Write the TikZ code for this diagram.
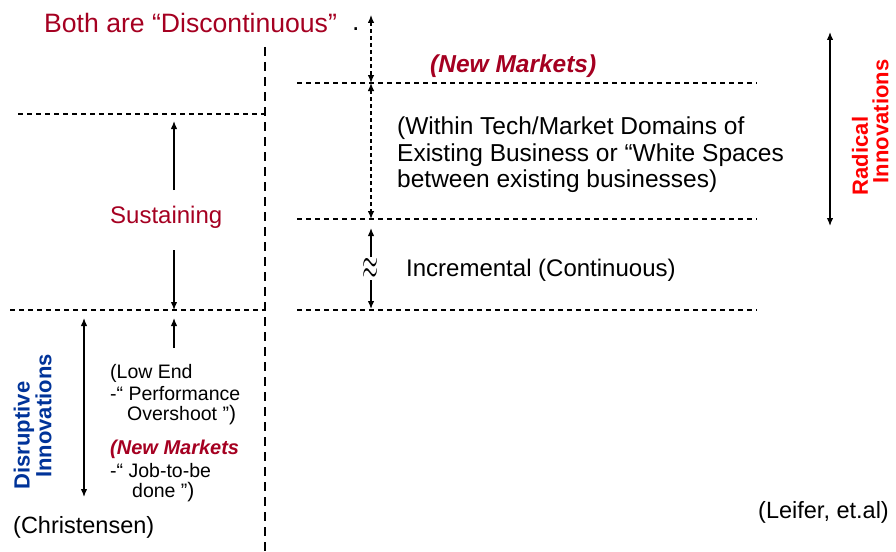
\documentclass[tikz,border=0pt]{standalone}
\usepackage{fontspec}
\setmainfont{Liberation Sans}
\usetikzlibrary{arrows.meta}
\definecolor{titlered}{RGB}{165,0,33}
\definecolor{radred}{RGB}{255,0,0}
\definecolor{disblue}{RGB}{0,51,153}
\newcommand{\fs}[1]{\fontsize{#1}{#1}\selectfont}
\tikzset{
  tip/.tip={Latex[length=8pt,width=6.5pt]},
  guide/.style={line width=1.1pt, dash pattern=on 5pt off 4pt},
  divider/.style={line width=2.8pt, dash pattern=on 9pt off 6pt},
  span/.style={line width=1.3pt, tip-tip},
  oneway/.style={line width=1.3pt, -tip},
  dspan/.style={line width=1.1pt, dash pattern=on 4pt off 3pt, tip-tip},
  txt/.style={inner sep=0pt, anchor=west},
  notes/.style={inner sep=0pt, anchor=north west, align=left, font=\fontsize{19.5}{22}\selectfont},
  vlabel/.style={inner sep=0pt, rotate=90, font=\fs{22}\bfseries},
}
\begin{document}
\begin{tikzpicture}[x=1pt,y=-1pt]
\useasboundingbox (0,0) rectangle (896,551);

% level guides
\coordinate (h1a) at (18,114);  \coordinate (h1b) at (265,114);
\coordinate (h2a) at (10,310);  \coordinate (h2b) at (265,310);
\coordinate (r1a) at (297,83);  \coordinate (r1b) at (757,83);
\coordinate (r2a) at (297,219); \coordinate (r2b) at (757,219);
\coordinate (r3a) at (297,310); \coordinate (r3b) at (757,310);
\draw[guide] (h1a) -- (h1b);
\draw[guide] (h2a) -- (h2b);
\draw[guide] (r1a) -- (r1b);
\draw[guide] (r2a) -- (r2b);
\draw[guide] (r3a) -- (r3b);

% central divider
\coordinate (dtop) at (265,47);
\coordinate (dbot) at (265,551);
\draw[divider] (dtop) -- (dbot);

% title
\node[txt, font=\fs{26.6}, text=titlered] (title) at (44,23) {Both are “Discontinuous”};
\node[inner sep=0pt, anchor=base west, font=\fs{26.6}] (dot) at (352,31) {.};

% right-hand scale
\coordinate (a0) at (371,15);
\coordinate (a1) at (371,83);
\coordinate (a2) at (371,219);
\coordinate (a3) at (371,228);
\coordinate (a3b) at (371,257);
\coordinate (a4b) at (371,280);
\coordinate (a4) at (371,309);
\draw[dspan] (a0) -- (a1);
\draw[dspan] (a1) -- (a2);
\node[inner sep=0pt] (approx) at (371,269) {\scalebox{1}[2.1]{\fs{22}$\approx$}};
\draw[oneway] (a3b) -- (a3);
\draw[oneway] (a4b) -- (a4);

\node[txt, font=\fs{24.5}\bfseries\itshape, text=titlered] (nmtop) at (430,66) {(New Markets)};
\node[txt, font=\fontsize{24.5}{26.5}\selectfont, align=left] (within) at (397,155)
  {(Within Tech/Market Domains of\\Existing Business or “White Spaces\\between existing businesses)};
\node[txt, font=\fs{24}] (incr) at (406,270) {Incremental (Continuous)};

% radical innovations
\coordinate (rt) at (830,32);
\coordinate (rb) at (830,226);
\draw[span] (rt) -- (rb);
\node[vlabel, text=radred] (rad) at (860,156) {Radical};
\node[vlabel, text=radred] (radinn) at (880.5,121.5) {Innovations};

% sustaining
\node[txt, font=\fs{24}, text=titlered] (sust) at (110,217) {Sustaining};
\coordinate (s1) at (174,190); \coordinate (s1t) at (174,121);
\coordinate (s2) at (174,250); \coordinate (s2t) at (174,310);
\coordinate (s3) at (174,348); \coordinate (s3t) at (174,318);
\draw[oneway] (s1) -- (s1t);
\draw[oneway] (s2) -- (s2t);
\draw[oneway] (s3) -- (s3t);

% disruptive innovations
\coordinate (dt) at (84,318);
\coordinate (db) at (84,497);
\draw[span] (dt) -- (db);
\node[vlabel, text=disblue] (dis) at (24,435.5) {Disruptive};
\node[vlabel, text=disblue] (disinn) at (43.5,416) {Innovations};

\node[notes] (lowend) at (110,364)
  {(Low End\\-“ Performance\\[-2pt]\hspace*{17pt}Overshoot ”{\fs{21})}};
\node[notes] (newmk) at (110,440)
  {{\color{titlered}\fs{20}\bfseries\itshape (New Markets}\\[0.5pt]-“ Job-to-be\\[-1.5pt]\hspace*{22pt}done ”{\fs{21})}};

% sources
\node[txt, font=\fs{23.5}] (chr) at (13,527) {(Christensen)};
\node[txt, font=\fs{23.5}] (lei) at (758,512) {(Leifer, et.al)};
\end{tikzpicture}
\end{document}
